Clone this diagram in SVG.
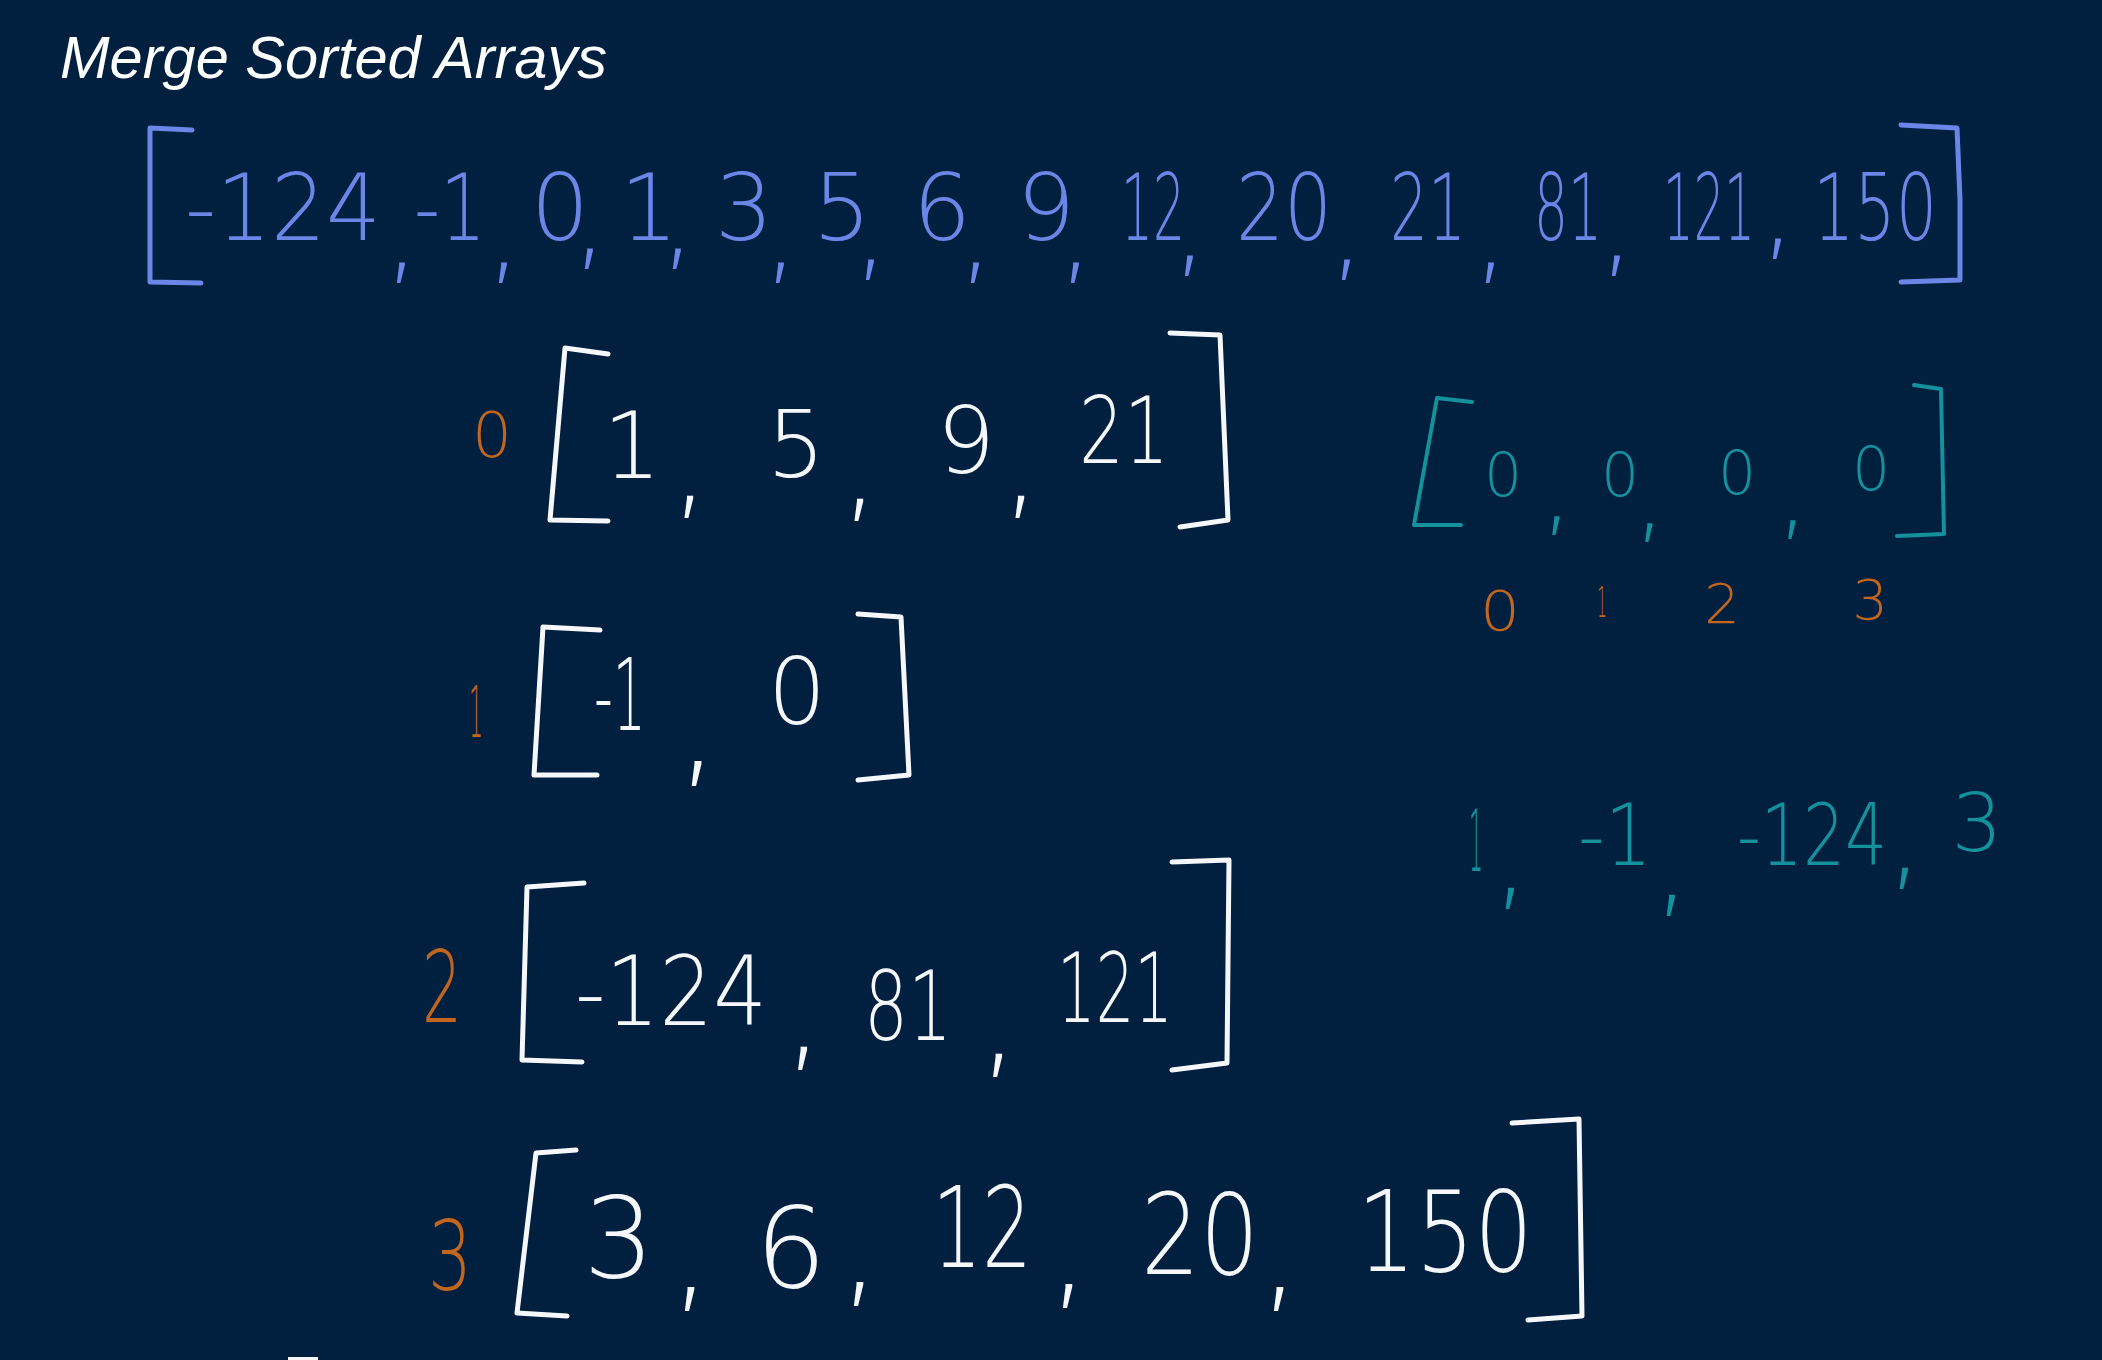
<svg xmlns="http://www.w3.org/2000/svg" width="2102" height="1360" viewBox="0 0 2102 1360">
<style>
.n{font-family:"DejaVu Sans","Liberation Sans",sans-serif;font-weight:200;text-anchor:middle}
.blue{fill:#6c86e8}
.wh{fill:#f6f7fb}
.tl{fill:#15919c}
.or{fill:#c2661f}
.br{fill:none;stroke-width:5;stroke-linecap:round;stroke-linejoin:round}
.bb{stroke:#6c86e8}
.bw{stroke:#f6f7fb}
.bt{stroke:#15919c;stroke-width:4}
.title{font-family:"Liberation Sans",Arial,sans-serif;font-style:italic;fill:#ffffff;font-size:60px}
</style>
<rect width="2102" height="1360" fill="#01203f"/>
<text class="title" x="60" y="78" textLength="547" lengthAdjust="spacingAndGlyphs">Merge Sorted Arrays</text>

<g id="merged">
<path class="br bb" d="M192 130 L150 128 L150 282 L201 283"/>
<path class="br bb" d="M1901 125 L1957 128 L1960 200 L1960 280 L1901 282"/>
<text class="n blue" font-size="92"><tspan x="283" y="240" textLength="196" lengthAdjust="spacingAndGlyphs">-124</tspan><tspan x="402" y="270" font-size="115">,</tspan><tspan x="450" y="240" textLength="72" lengthAdjust="spacingAndGlyphs">-1</tspan><tspan x="504" y="270" font-size="115">,</tspan><tspan x="560" y="240">0</tspan><tspan x="590" y="256" font-size="115">,</tspan><tspan x="649" y="240">1</tspan><tspan x="678" y="256" font-size="115">,</tspan><tspan x="744" y="240">3</tspan><tspan x="781" y="270" font-size="115">,</tspan><tspan x="842" y="240">5</tspan><tspan x="871" y="267" font-size="115">,</tspan><tspan x="942" y="240">6</tspan><tspan x="976" y="270" font-size="115">,</tspan><tspan x="1046" y="240">9</tspan><tspan x="1076" y="270" font-size="115">,</tspan><tspan x="1153" y="240" textLength="64" lengthAdjust="spacingAndGlyphs">12</tspan><tspan x="1190" y="263" font-size="115">,</tspan><tspan x="1284" y="240" textLength="96" lengthAdjust="spacingAndGlyphs">20</tspan><tspan x="1347" y="267" font-size="115">,</tspan><tspan x="1428" y="240" textLength="76" lengthAdjust="spacingAndGlyphs">21</tspan><tspan x="1491" y="270" font-size="115">,</tspan><tspan x="1568" y="240" textLength="68" lengthAdjust="spacingAndGlyphs">81</tspan><tspan x="1617" y="263" font-size="115">,</tspan><tspan x="1709" y="240" textLength="92" lengthAdjust="spacingAndGlyphs">121</tspan><tspan x="1778" y="246" font-size="115">,</tspan><tspan x="1875" y="240" textLength="124" lengthAdjust="spacingAndGlyphs">150</tspan></text>
</g>

<g id="array0">
<text class="n or" x="492" y="457" font-size="62" textLength="40" lengthAdjust="spacingAndGlyphs">0</text>
<path class="br bw" d="M608 354 L565 348 L550 520 L608 521"/>
<path class="br bw" d="M1170 333 L1220 335 L1228 520 L1180 527"/>
<text class="n wh" font-size="92"><tspan x="632" y="478">1</tspan><tspan x="690" y="503" font-size="125">,</tspan><tspan x="796" y="477">5</tspan><tspan x="860" y="506" font-size="125">,</tspan><tspan x="966" y="473">9</tspan><tspan x="1021" y="503" font-size="125">,</tspan><tspan x="1124" y="463" textLength="90" lengthAdjust="spacingAndGlyphs">21</tspan></text>
</g>

<g id="array1">
<text class="n or" x="476" y="737" font-size="72" textLength="14" lengthAdjust="spacingAndGlyphs">1</text>
<path class="br bw" d="M600 630 L543 627 L534 775 L597 775"/>
<path class="br bw" d="M858 614 L901 617 L909 775 L858 780"/>
<text class="n wh" font-size="100"><tspan x="620" y="730" textLength="52" lengthAdjust="spacingAndGlyphs">-1</tspan><tspan x="698" y="770" font-size="140">,</tspan><tspan x="797" y="724" font-size="92">0</tspan></text>
</g>

<g id="array2">
<text class="n or" x="442" y="1022" font-size="100" textLength="40" lengthAdjust="spacingAndGlyphs">2</text>
<path class="br bw" d="M584 883 L527 887 L522 1060 L582 1062"/>
<path class="br bw" d="M1172 862 L1229 860 L1227 1063 L1172 1070"/>
<text class="n wh" font-size="96"><tspan x="671" y="1025" textLength="192" lengthAdjust="spacingAndGlyphs">-124</tspan><tspan x="804" y="1055" font-size="130">,</tspan><tspan x="908" y="1040" textLength="88" lengthAdjust="spacingAndGlyphs">81</tspan><tspan x="999" y="1062" font-size="130">,</tspan><tspan x="1115" y="1022" textLength="116" lengthAdjust="spacingAndGlyphs">121</tspan></text>
</g>

<g id="array3">
<text class="n or" x="450" y="1290" font-size="96" textLength="44" lengthAdjust="spacingAndGlyphs">3</text>
<path class="br bw" d="M576 1150 L536 1153 L517 1313 L567 1316"/>
<path class="br bw" d="M1512 1123 L1579 1119 L1582 1316 L1528 1320"/>
<text class="n wh" font-size="112"><tspan x="619" y="1277">3</tspan><tspan x="691" y="1295" font-size="135">,</tspan><tspan x="791" y="1287">6</tspan><tspan x="860" y="1290" font-size="135">,</tspan><tspan x="982" y="1267" textLength="100" lengthAdjust="spacingAndGlyphs">12</tspan><tspan x="1069" y="1292" font-size="135">,</tspan><tspan x="1200" y="1274" textLength="118" lengthAdjust="spacingAndGlyphs">20</tspan><tspan x="1280" y="1295" font-size="135">,</tspan><tspan x="1445" y="1271" textLength="176" lengthAdjust="spacingAndGlyphs">150</tspan></text>
</g>

<g id="pointers">
<path class="br bt" d="M1472 402 L1437 398 L1414 525 L1461 525"/>
<path class="br bt" d="M1914 385 L1941 389 L1944 534 L1897 536"/>
<text class="n tl" font-size="60"><tspan x="1503" y="496">0</tspan><tspan x="1557" y="523" font-size="105">,</tspan><tspan x="1620" y="496">0</tspan><tspan x="1650" y="530" font-size="105">,</tspan><tspan x="1737" y="494">0</tspan><tspan x="1793" y="527" font-size="105">,</tspan><tspan x="1871" y="490">0</tspan></text>
</g>

<g id="indices">
<text class="n or" font-size="56"><tspan x="1500" y="630" textLength="40" lengthAdjust="spacingAndGlyphs">0</tspan><tspan x="1602" y="617" font-size="42" textLength="10" lengthAdjust="spacingAndGlyphs">1</tspan><tspan x="1722" y="623">2</tspan><tspan x="1870" y="619">3</tspan></text>
</g>

<g id="heap">
<text class="n tl" font-size="86"><tspan x="1476" y="871" textLength="14" lengthAdjust="spacingAndGlyphs">1</tspan><tspan x="1511" y="895" font-size="120">,</tspan><tspan x="1615" y="865" textLength="74" lengthAdjust="spacingAndGlyphs">-1</tspan><tspan x="1672" y="902" font-size="120">,</tspan><tspan x="1812" y="865" textLength="150" lengthAdjust="spacingAndGlyphs">-124</tspan><tspan x="1905" y="875" font-size="120">,</tspan><tspan x="1977" y="851" font-size="80">3</tspan></text>
</g>

<g id="connectors"/>
<rect x="288" y="1357" width="30" height="3" fill="#f6f7fb"/>
</svg>
